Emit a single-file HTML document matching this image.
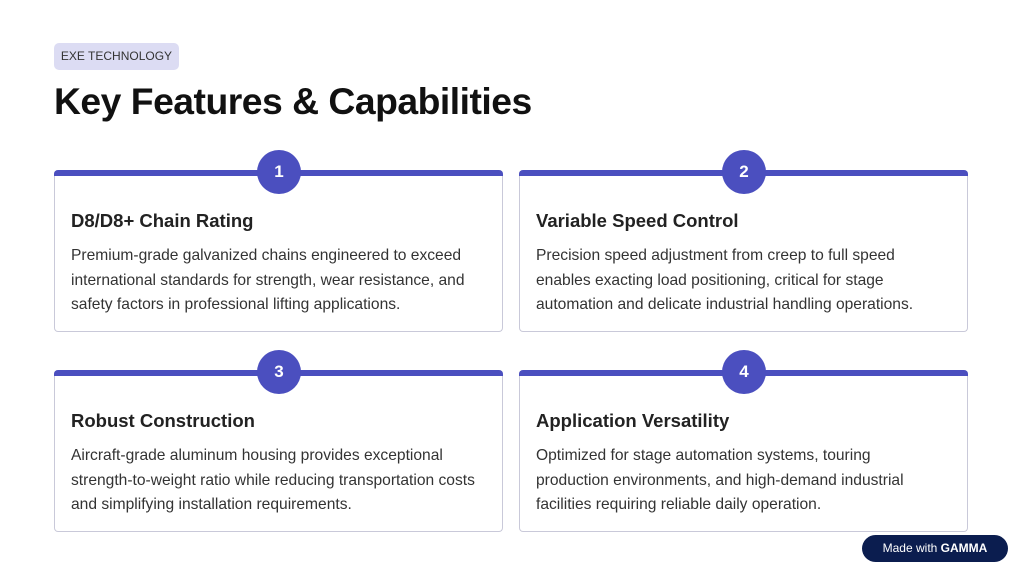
<!DOCTYPE html>
<html><head><style>
*{margin:0;padding:0;box-sizing:border-box}
body{width:1023px;height:576px;background:#fff;font-family:"Liberation Sans",sans-serif;position:relative;overflow:hidden;color:#222}
.badge{position:absolute;left:54px;top:43px;width:125px;height:27px;background:#dcdcf3;border-radius:5px;font-size:12px;color:#333;line-height:27px;text-align:center}
h1{position:absolute;left:54px;top:80px;font-size:37.3px;font-weight:bold;color:#111;letter-spacing:-0.5px}
.card{position:absolute;width:449px;height:162px;border:1px solid #c9c9d9;border-top:none;border-radius:4px;background:#fff}
.bar{position:absolute;left:-1px;right:-1px;top:0;height:6px;background:#4b4fbf;border-radius:4px 4px 0 0}
.num{position:absolute;left:202px;top:-20px;width:44px;height:44px;border-radius:50%;background:#4b4fbf;color:#fff;font-weight:bold;font-size:17px;line-height:44px;text-align:center}
.card h2{position:absolute;left:16px;top:40px;font-size:18.5px;font-weight:bold;color:#222}
.card p{position:absolute;left:16px;top:74px;width:408px;font-size:15.6px;line-height:24.5px;color:#333}
.gamma{position:absolute;left:862px;top:535px;width:146px;height:27px;background:#0b1d4f;border-radius:14px;color:#fff;font-size:12px;line-height:27px;text-align:center}
</style></head><body>
<div class="badge">EXE TECHNOLOGY</div>
<h1>Key Features &amp; Capabilities</h1>
<div class="card" style="left:54px;top:170px"><div class="bar"></div><div class="num">1</div><h2>D8/D8+ Chain Rating</h2><p>Premium-grade galvanized chains engineered to exceed international standards for strength, wear resistance, and safety factors in professional lifting applications.</p></div>
<div class="card" style="left:519px;top:170px"><div class="bar"></div><div class="num">2</div><h2>Variable Speed Control</h2><p>Precision speed adjustment from creep to full speed enables exacting load positioning, critical for stage automation and delicate industrial handling operations.</p></div>
<div class="card" style="left:54px;top:370px"><div class="bar"></div><div class="num">3</div><h2>Robust Construction</h2><p>Aircraft-grade aluminum housing provides exceptional strength-to-weight ratio while reducing transportation costs and simplifying installation requirements.</p></div>
<div class="card" style="left:519px;top:370px"><div class="bar"></div><div class="num">4</div><h2>Application Versatility</h2><p>Optimized for stage automation systems, touring production environments, and high-demand industrial facilities requiring reliable daily operation.</p></div>
<div class="gamma">Made with <b>GAMMA</b></div>
</body></html>
